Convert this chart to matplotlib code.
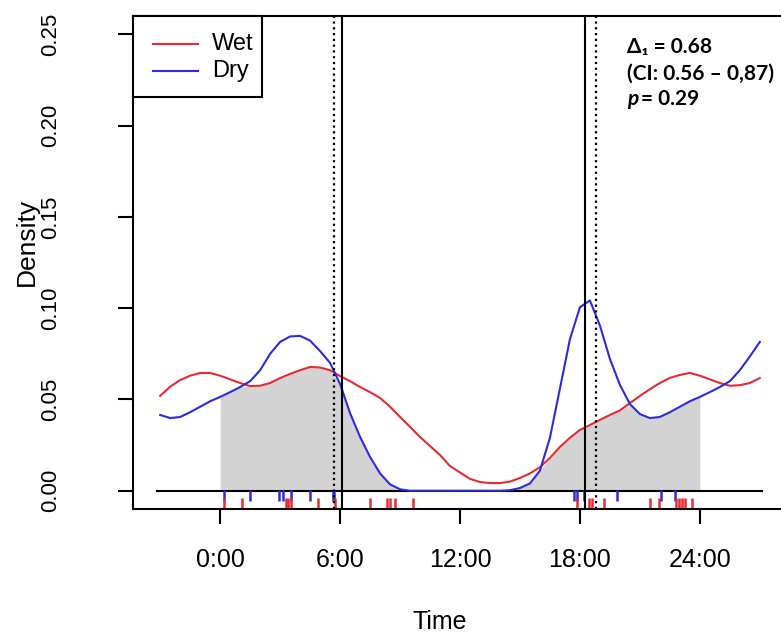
import matplotlib.pyplot as plt
import numpy as np
from matplotlib.lines import Line2D
from matplotlib.patches import Rectangle

# kernel density estimates (time of day in hours, density)
hours = [-3.0, -2.5, -2.0, -1.5, -1.0, -0.5, 0.0, 0.5, 1.0, 1.5, 2.0, 2.5,
         3.0, 3.5, 4.0, 4.5, 5.0, 5.5, 6.0, 6.5, 7.0, 7.5, 8.0, 8.5, 9.0, 9.5,
         10.0, 10.5, 11.0, 11.5, 12.0, 12.5, 13.0, 13.5, 14.0, 14.5, 15.0, 15.5,
         16.0, 16.5, 17.0, 17.5, 18.0, 18.5, 19.0, 19.5, 20.0, 20.5, 21.0, 21.5,
         22.0, 22.5, 23.0, 23.5, 24.0, 24.5, 25.0, 25.5, 26.0, 26.5, 27.0]
wet = [0.052, 0.057, 0.0606, 0.063, 0.0645, 0.0645, 0.063, 0.061, 0.059, 0.0573, 0.0575, 0.059,
       0.0617, 0.064, 0.066, 0.0678, 0.0675, 0.066, 0.0628, 0.060, 0.0568, 0.054, 0.0508, 0.046, 0.0404, 0.035,
       0.0294, 0.0245, 0.0196, 0.0135, 0.010, 0.0065, 0.0048, 0.0042, 0.0042, 0.005, 0.007, 0.0095,
       0.0129, 0.018, 0.024, 0.029, 0.0333, 0.036, 0.0388, 0.0415, 0.044, 0.048, 0.0519, 0.0556,
       0.059, 0.0618, 0.0634, 0.0645, 0.063, 0.061, 0.059, 0.0575, 0.0578, 0.059, 0.0617]
dry = [0.0415, 0.0398, 0.0404, 0.043, 0.046, 0.049, 0.0514, 0.054, 0.0568, 0.0600, 0.0660, 0.0750,
       0.0815, 0.0845, 0.0848, 0.0822, 0.0765, 0.0700, 0.0585, 0.0425, 0.0295, 0.0185, 0.0095, 0.0035, 0.0008, 0.0,
       0.0, 0.0, 0.0, 0.0, 0.0, 0.0, 0.0, 0.0, 0.0, 0.0003, 0.0015, 0.004,
       0.011, 0.029, 0.056, 0.083, 0.1005, 0.1042, 0.0905, 0.0722, 0.058, 0.0475, 0.042, 0.0398,
       0.0404, 0.043, 0.046, 0.049, 0.0514, 0.054, 0.0568, 0.0600, 0.0660, 0.0735, 0.0815]

# detection times
wet_times = [0.17, 1.1, 3.27, 3.4, 3.55, 4.9, 5.75, 7.5, 8.36, 8.48, 8.74, 9.67,
             17.83, 18.43, 18.6, 19.2, 21.52, 21.98, 22.8, 22.95, 23.1, 23.25, 23.6]
dry_times = [0.2, 1.48, 2.93, 3.12, 3.55, 4.52, 5.63, 5.72,
             17.72, 17.85, 18.18, 19.87, 22.08, 22.77]

# sunrise / sunset (solid) and civil twilight (dotted)
sun_solid = [6.12, 18.25]
sun_dotted = [5.7, 18.8]

xticks = [0, 6, 12, 18, 24]
xlabels = ['0:00', '6:00', '12:00', '18:00', '24:00']
yticks = [0.0, 0.05, 0.10, 0.15, 0.20, 0.25]

RED = '#ea2a30'
BLUE = '#2b2be0'
W, H = 781, 637

plt.rcParams['font.family'] = ['Liberation Sans', 'DejaVu Sans']

fig = plt.figure(figsize=(W / 100, H / 100), dpi=100)
ax = fig.add_axes([133 / W, 128 / H, 653 / W, 493 / H])
ax.set_xlim(-4.36, 28.31)
ax.set_ylim(-0.01, 0.26)

h = np.array(hours)
overlap = np.minimum(wet, dry)
day = (h >= 0) & (h <= 24)
ax.fill_between(h[day], 0, overlap[day], color='#d3d3d3', lw=0)

ax.plot([-3.15, 27.1], [0, 0], color='black', lw=1.5)
ax.plot(hours, wet, color=RED, lw=1.5)
ax.plot(hours, dry, color=BLUE, lw=1.5)

ax.vlines(dry_times, -0.0058, 0.0005, color=BLUE, lw=1.8)
ax.vlines(wet_times, -0.0100, -0.0038, color=RED, lw=1.8)

for t in sun_solid:
    ax.axvline(t, color='black', lw=1.5)
for t in sun_dotted:
    ax.axvline(t, color='black', lw=1.6, linestyle=(0, (1, 1.6)))

for s in ax.spines.values():
    s.set_linewidth(1.5)
ax.set_xticks(xticks)
ax.set_xticklabels(xlabels)
ax.set_yticks(yticks)
ax.set_yticklabels(['%.2f' % v for v in yticks], rotation=90, va='center')
ax.tick_params(axis='both', direction='out', length=11, width=1.5)
ax.tick_params(axis='x', pad=17, labelsize=18)
ax.tick_params(axis='y', pad=41, labelsize=16)

fig.text(440 / W, 1 - 622 / H, 'Time', ha='center', va='center', fontsize=18)
fig.text(27 / W, 1 - 242 / H, 'Density', ha='center', va='center', rotation=90, fontsize=19)


def fpos(x, y):
    return x / W, 1 - y / H


# legend box in the top-left corner
x0, y0 = fpos(133, 97)
fig.add_artist(Rectangle((x0, y0), 129 / W, 81 / H, transform=fig.transFigure,
                         facecolor='white', edgecolor='black', lw=1.5, zorder=3))
for yy, col, lab in [(44, RED, 'Wet'), (71, BLUE, 'Dry')]:
    a, b = fpos(153, yy)
    c, _ = fpos(198, yy)
    fig.add_artist(Line2D([a, c], [b, b], transform=fig.transFigure, color=col, lw=1.5, zorder=4))
    tx, ty = fpos(212, yy)
    fig.text(tx, ty, lab, ha='left', va='center', fontsize=17, zorder=4)

# overlap statistics
bold = dict(fontweight='bold', fontsize=15, family=['Lato', 'DejaVu Sans'], va='baseline')
fig.text(*fpos(627, 53), 'Δ₁ = 0.68', **bold)
fig.text(*fpos(627, 80), '(CI: 0.56 – 0,87)', **bold)
fig.text(*fpos(627, 105), 'p', style='italic', **bold)
fig.text(*fpos(641, 105), '= 0.29', **bold)

fig.savefig('out.png', dpi=100)
